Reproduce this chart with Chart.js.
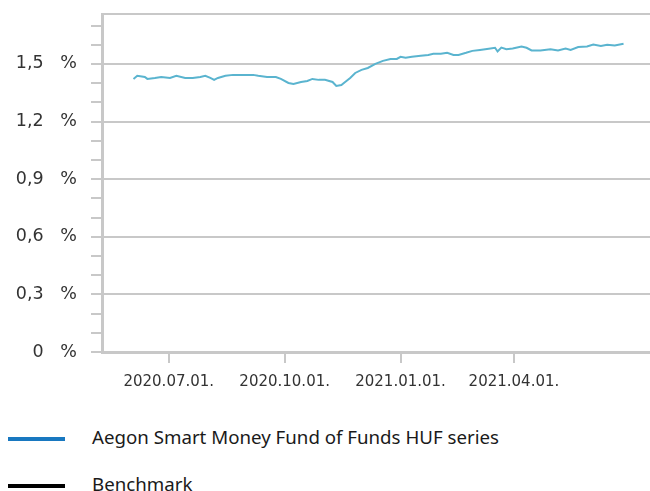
<!DOCTYPE html>
<html>
<head>
<meta charset="utf-8">
<script src="https://cdn.jsdelivr.net/npm/chart.js@4.4.0/dist/chart.umd.min.js"></script>
<style>
  body { margin: 0; background: #fff; }
  #wrap { position: relative; width: 650px; height: 401px; }
  #legend { position: absolute; left: 0; top: 415px; width: 650px; font-family: "Noto Sans", sans-serif; font-size: 18.7px; color: #1a1a1a; }
  .item { position: relative; height: 46.5px; }
  .swatch { position: absolute; left: 8px; top: 22px; width: 57px; height: 4px; }
  .label { position: absolute; left: 92px; top: 9px; line-height: 26px; }
</style>
</head>
<body>
<div id="wrap"><canvas id="trendChart"></canvas></div>
<div id="legend"></div>
<script>
var dates = [
  '2020-06-03','2020-06-06','2020-06-12','2020-06-14','2020-06-20','2020-06-25',
  '2020-07-02','2020-07-07','2020-07-14','2020-07-20','2020-07-26','2020-07-30',
  '2020-08-03','2020-08-06','2020-08-09','2020-08-15','2020-08-21','2020-08-31',
  '2020-09-06','2020-09-10','2020-09-17','2020-09-24','2020-09-28',
  '2020-10-04','2020-10-08','2020-10-14','2020-10-19','2020-10-23','2020-10-28',
  '2020-11-02','2020-11-08','2020-11-11','2020-11-15','2020-11-18','2020-11-22','2020-11-26',
  '2020-12-01','2020-12-06','2020-12-12','2020-12-18','2020-12-24','2020-12-29',
  '2021-01-01','2021-01-05','2021-01-10','2021-01-17','2021-01-23','2021-01-27',
  '2021-02-02','2021-02-07','2021-02-12','2021-02-16','2021-02-22','2021-02-27',
  '2021-03-05','2021-03-12','2021-03-17','2021-03-19','2021-03-22','2021-03-26','2021-03-31',
  '2021-04-07','2021-04-11','2021-04-15','2021-04-22','2021-04-30',
  '2021-05-06','2021-05-12','2021-05-16','2021-05-22','2021-05-29',
  '2021-06-03','2021-06-09','2021-06-14','2021-06-20','2021-06-27'
];
var fundValues = [
  1.422, 1.438, 1.432, 1.422, 1.427, 1.432,
  1.427, 1.438, 1.427, 1.427, 1.432, 1.438,
  1.427, 1.417, 1.427, 1.438, 1.443, 1.443,
  1.443, 1.438, 1.432, 1.432, 1.422,
  1.401, 1.396, 1.406, 1.411, 1.422, 1.417,
  1.417, 1.406, 1.385, 1.390, 1.406, 1.427, 1.453,
  1.469, 1.479, 1.500, 1.516, 1.526, 1.526,
  1.537, 1.532, 1.537, 1.542, 1.547, 1.553,
  1.553, 1.558, 1.547, 1.547, 1.558, 1.568,
  1.573, 1.579, 1.584, 1.565, 1.585, 1.577, 1.580,
  1.591, 1.584, 1.570, 1.570, 1.577,
  1.570, 1.580, 1.573, 1.588, 1.591,
  1.601, 1.594, 1.600, 1.596, 1.605
];
var benchmarkValues = [];

var xTickDates = ['2020-07-01', '2020-10-01', '2021-01-01', '2021-04-01'];
var xTickLabels = ['2020.07.01.', '2020.10.01.', '2021.01.01.', '2021.04.01.'];
var xStart = '2020-05-09';
var xEnd = '2021-07-18';

var yMajor = [0, 0.3, 0.6, 0.9, 1.2, 1.5];
var yMinorStep = 0.1;
var yMax = 1.76;

var legendNames = ['Aegon Smart Money Fund of Funds HUF series', 'Benchmark'];
var legendColors = ['#1878c0', '#000000'];

function dayNum(s) {
    var p = s.split('-');
    return Date.UTC(+p[0], +p[1] - 1, +p[2]) / 86400000;
}
function isMajor(v) {
    return yMajor.some(function(m) { return Math.abs(m - v) < 1e-6; });
}
function yLabel(v) {
    if (!isMajor(v)) return '';
    return (v === 0 ? '0' : v.toFixed(1).replace('.', ',')) + '   %';
}

var grey = '#c8c8c8';
var ctx = document.getElementById('trendChart');
var myChart = new Chart(ctx, {
    type: 'line',
    data: {
        datasets: [{
            label: legendNames[0],
            data: dates.map(function(d, i) { return { x: dayNum(d), y: fundValues[i] }; }),
            borderColor: '#5ab4cf',
            borderWidth: 2,
            pointRadius: 0,
            tension: 0,
        }, {
            label: legendNames[1],
            data: benchmarkValues,
            borderColor: legendColors[1],
            borderWidth: 2,
            pointRadius: 0,
        }],
    },
    options: {
        animation: false,
        responsive: true,
        maintainAspectRatio: false,
        layout: { padding: { top: 14, left: 0, right: 0, bottom: 0 } },
        plugins: { legend: { display: false }, tooltip: { enabled: false } },
        scales: {
            x: {
                type: 'linear',
                min: dayNum(xStart),
                max: dayNum(xEnd),
                afterBuildTicks: function(scale) {
                    scale.ticks = xTickDates.map(function(d) { return { value: dayNum(d) }; });
                },
                ticks: {
                    autoSkip: false,
                    maxRotation: 0,
                    padding: 10,
                    color: '#333',
                    font: { family: 'DejaVu Sans', size: 15 },
                    callback: function(v, i) { return xTickLabels[i]; }
                },
                grid: { drawOnChartArea: false, color: grey, lineWidth: 2, tickLength: 11 },
                border: { color: grey, width: 3 }
            },
            y: {
                min: 0,
                max: yMax,
                afterFit: function(scale) {
                    scale.width = 102;
                    scale.paddingTop = 0;
                    scale.paddingBottom = 0;
                },
                afterBuildTicks: function(scale) {
                    var t = [];
                    for (var i = 0; i * yMinorStep <= yMax - 0.05; i++) {
                        t.push({ value: Math.round(i * yMinorStep * 10) / 10 });
                    }
                    t.push({ value: yMax });
                    scale.ticks = t;
                },
                ticks: {
                    autoSkip: false,
                    padding: 14,
                    color: '#333',
                    font: { family: 'DejaVu Sans', size: 17.5 },
                    callback: function(v) { return yLabel(v); }
                },
                grid: {
                    lineWidth: 2,
                    tickLength: 11,
                    color: function(c) {
                        var v = c.tick.value;
                        return (isMajor(v) || v === yMax) ? grey : 'transparent';
                    },
                    tickColor: function(c) {
                        return c.tick.value === yMax ? 'transparent' : grey;
                    }
                },
                border: { color: grey, width: 3 }
            }
        }
    }
});

var legend = document.getElementById('legend');
legendNames.forEach(function(name, i) {
    var item = document.createElement('div');
    item.className = 'item';
    item.innerHTML = '<div class="swatch" style="background:' + legendColors[i] + '"></div><div class="label"></div>';
    item.querySelector('.label').textContent = name;
    legend.appendChild(item);
});
</script>
</body>
</html>
